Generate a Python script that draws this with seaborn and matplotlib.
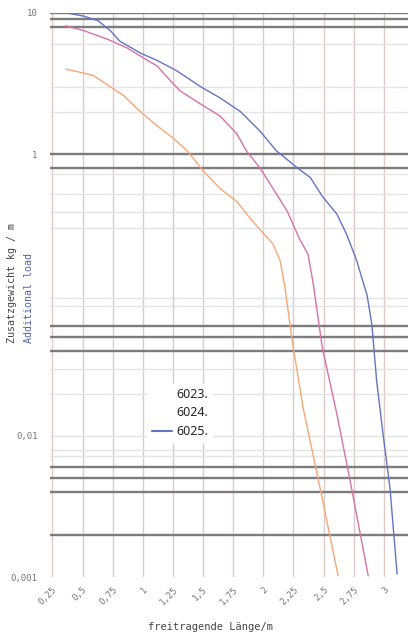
import numpy as np
import pandas as pd
import matplotlib
matplotlib.use("Agg")
import matplotlib.pyplot as plt
import seaborn as sns

# ---- data ----
series_names = ["6023.", "6024.", "6025."]

x_6023 = [0.36, 0.48, 0.59, 0.73, 0.84, 0.98, 1.12, 1.25, 1.37, 1.50, 1.64, 1.78, 1.89, 1.99, 2.08, 2.14, 2.18, 2.24, 2.33, 2.47, 2.62]
y_6023 = [4.0, 3.8, 3.6, 3.0, 2.6, 2.0, 1.58, 1.30, 1.05, 0.76, 0.57, 0.46, 0.35, 0.28, 0.23, 0.174, 0.112, 0.047, 0.0158, 0.0043, 0.00102]

x_6024 = [0.36, 0.51, 0.71, 0.87, 0.98, 1.12, 1.23, 1.31, 1.48, 1.64, 1.78, 1.86, 1.97, 2.08, 2.20, 2.30, 2.37, 2.41, 2.49, 2.61, 2.72, 2.87]
y_6024 = [8.1, 7.5, 6.5, 5.65, 4.95, 4.2, 3.3, 2.8, 2.26, 1.86, 1.39, 1.05, 0.80, 0.57, 0.39, 0.25, 0.195, 0.126, 0.042, 0.0143, 0.0048, 0.00102]

x_6025 = [0.37, 0.51, 0.63, 0.73, 0.81, 0.98, 1.12, 1.28, 1.48, 1.64, 1.81, 1.97, 2.11, 2.28, 2.39, 2.49, 2.61, 2.69, 2.77, 2.86, 2.90, 2.94, 2.99, 3.05, 3.11]
y_6025 = [10.0, 9.5, 8.8, 7.5, 6.3, 5.2, 4.6, 3.9, 3.0, 2.5, 2.0, 1.46, 1.05, 0.80, 0.68, 0.50, 0.375, 0.27, 0.18, 0.10, 0.062, 0.0246, 0.0108, 0.0043, 0.00105]

x_ticks = [0.25, 0.5, 0.75, 1, 1.25, 1.5, 1.75, 2, 2.25, 2.5, 2.75, 3]
x_tick_labels = ["0,25", "0,5", "0,75", "1", "1,25", "1,5", "1,75", "2", "2,25", "2,5", "2,75", "3"]
y_ticks = [10, 1, 0.01, 0.001]
y_tick_labels = ["10", "1", "0,01", "0,001"]

# reference lines drawn across the chart
heavy_lines = [10, 9, 8, 1, 0.8, 0.06, 0.05, 0.04, 0.006, 0.005, 0.004, 0.002]
light_lines = [6, 3, 2, 0.72, 0.52, 0.39, 0.30, 0.095, 0.083, 0.03, 0.02, 0.01, 0.008, 0.0072]
vertical_lines = x_ticks + [3.25]

# ---- build table ----
frames = []
for name, xs, ys in zip(series_names, [x_6023, x_6024, x_6025], [y_6023, y_6024, y_6025]):
    frames.append(pd.DataFrame({"x": xs, "y": ys, "series": name}))
df = pd.concat(frames, ignore_index=True)

palette = {"6023.": "#f4a878", "6024.": "#d572a8", "6025.": "#6474c4"}

sns.set_style("white")
fig = plt.figure(figsize=(4.12, 6.34), dpi=100)
ax = fig.add_axes([50/412, 1-577/634, (408-50)/412, (577-13)/634])

for v in vertical_lines:
    ax.axvline(v, color="#dccbc6", lw=1.0, zorder=0)
for h in light_lines:
    ax.axhline(h, color="#e4e4e4", lw=1.0, zorder=0)
for h in heavy_lines:
    ax.axhline(h, color="#7c7c7c", lw=1.7, zorder=1)

sns.lineplot(data=df, x="x", y="y", hue="series", palette=palette,
             estimator=None, sort=False, lw=1.0, ax=ax, zorder=3)

ax.set_yscale("log")
ax.set_ylim(0.001, 10)
ax.set_xlim(0.23, 3.2)
ax.grid(False)
for s in ax.spines.values():
    s.set_visible(False)

ax.set_xticks(x_ticks)
ax.set_xticklabels(x_tick_labels, rotation=45, ha="right", va="top", rotation_mode="anchor",
                   fontsize=6.5, color="#777777", family="DejaVu Sans Mono")
ax.set_yticks(y_ticks)
ax.set_yticklabels(y_tick_labels, fontsize=6.5, color="#777777", family="DejaVu Sans Mono")
ax.yaxis.set_minor_locator(matplotlib.ticker.NullLocator())
ax.tick_params(axis="both", length=0)
ax.tick_params(axis="y", pad=9)
ax.tick_params(axis="x", pad=6)
ax.set_xlabel("")
ax.set_ylabel("")

fig.text(210/412, 1-627/634, "freitragende Länge/m", ha="center", va="center",
         fontsize=7.5, color="#444444", family="DejaVu Sans Mono")
fig.text(12/412, 1-343/634, "Zusatzgewicht kg / m", rotation=90, ha="center", va="bottom",
         fontsize=7.2, color="#444444", family="DejaVu Sans Mono")
fig.text(29/412, 1-343/634, "Additional load", rotation=90, ha="center", va="bottom",
         fontsize=7.2, color="#5060b0", family="DejaVu Sans Mono")

leg = ax.legend(loc="upper left", bbox_to_anchor=(148/412, 1-384/634), bbox_transform=fig.transFigure,
                frameon=True, fontsize=9, handlelength=1.6, handletextpad=0.4, labelspacing=0.45,
                borderpad=0.3, borderaxespad=0)
leg.get_frame().set_edgecolor("white")
leg.get_frame().set_facecolor("white")
leg.get_frame().set_alpha(1)
for t in leg.get_texts():
    t.set_family("Noto Sans")
for i, line in enumerate(leg.get_lines()):
    line.set_linewidth(1.5)
    if i < 2:
        line.set_alpha(0)

fig.savefig("out.png", dpi=100)
